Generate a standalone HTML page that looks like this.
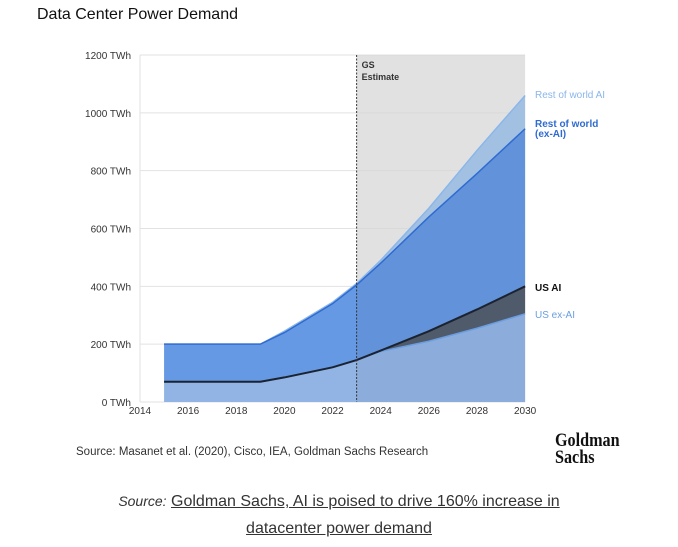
<!DOCTYPE html>
<html><head><meta charset="utf-8"><style>
body{margin:0;background:#fff;width:678px;height:547px;overflow:hidden;font-family:"Liberation Sans",sans-serif;position:relative}
.t{position:absolute}
</style></head><body>
<div class="t" style="left:37px;top:6px;font-size:16px;color:#111">Data Center Power Demand</div>
<svg id="c" width="678" height="440" style="position:absolute;left:0;top:0" font-family="Liberation Sans, sans-serif"></svg>
<div class="t" style="left:76px;top:446px;font-size:11.5px;color:#333">Source: Masanet et al. (2020), Cisco, IEA, Goldman Sachs Research</div>
<div class="t" style="left:555px;top:432px;font-family:'Liberation Serif',serif;font-weight:bold;font-size:19px;line-height:17px;color:#111;transform:scaleX(0.85);transform-origin:left">Goldman<br>Sachs</div>
<div class="t" style="left:0;width:678px;top:488px;text-align:center;font-size:16px;line-height:27px;color:#333"><i style="font-size:14px">Source:</i> <a style="color:#333;text-decoration:underline">Goldman Sachs, AI is poised to drive 160% increase in<br>datacenter power demand</a></div>
<script>
const years=[2015,2019,2020,2022,2023,2024,2026,2028,2030];
const usExAI=[70,70,85,120,145,175,210,255,305];
const usAI=[70,70,85,120,145,178,245,320,400];
const rowExAI=[200,200,240,340,405,480,640,790,945];
const rowAI=[200,200,245,345,410,490,670,870,1060];
const yTicks=[0,200,400,600,800,1000,1200];
const xTicks=[2014,2016,2018,2020,2022,2024,2026,2028,2030];
const NS='http://www.w3.org/2000/svg',svg=document.getElementById('c');
const X=y=>140+(y-2014)*24.07, Y=v=>402-v*(402-55)/1200;
function el(t,a,p){const e=document.createElementNS(NS,t);for(const k in a)e.setAttribute(k,a[k]);(p||svg).appendChild(e);return e;}
const gr=el('rect',{x:X(2023),y:55,width:X(2030)-X(2023),height:347,fill:'#ebebeb'});


yTicks.forEach(v=>{const g=el('line',{x1:140,x2:X(2030),y1:Y(v),y2:Y(v),stroke:'#e2e2e2'});


const t=el('text',{x:131,y:Y(v)+4,'text-anchor':'end','font-size':10,fill:'#333'});t.textContent=v+' TWh';

});
xTicks.forEach(v=>{const t=el('text',{x:X(v),y:414,'text-anchor':'middle','font-size':10,fill:'#333'});t.textContent=v;

});
function area(top,bot,fill,name){let d='M'+years.map((y,i)=>X(y)+','+Y(top[i])).join('L');
for(let i=years.length-1;i>=0;i--)d+='L'+X(years[i])+','+Y(bot?bot[i]:0);
const p=el('path',{d:d+'Z',fill:fill});

}
function line(vals,col,w,name){const p=el('path',{d:'M'+years.map((y,i)=>X(y)+','+Y(vals[i])).join('L'),fill:'none',stroke:col,'stroke-width':w});

}
area(rowAI,rowExAI,'#a9c8ec','area-rest-of-world-ai');
area(rowExAI,usAI,'#6699e3','area-rest-of-world-ex-ai');
area(usAI,usExAI,'#535e70','area-us-ai');
area(usExAI,null,'#92b4e4','area-us-ex-ai');
const ov=el('rect',{x:X(2023),y:55,width:X(2030)-X(2023),height:347,fill:'#000',opacity:0.04});


line(rowAI,'#8ab6ea',1.5,'line-rest-of-world-ai');
line(rowExAI,'#2f6bd0',1.5,'line-rest-of-world-ex-ai');
line(usExAI,'#6a9ee0',1.5,'line-us-ex-ai');
line(usAI,'#1b2330',2,'line-us-ai');
const vl=el('line',{x1:X(2023),x2:X(2023),y1:55,y2:402,stroke:'#333','stroke-dasharray':'2,1.5'});


const ax=el('line',{x1:140,x2:140,y1:55,y2:402,stroke:'#e2e2e2'});


[['GS',68],['Estimate',80]].forEach(([s,y])=>{const t=el('text',{x:X(2023)+5,y:y,'font-size':9,'font-weight':'bold',fill:'#333'});t.textContent=s;

});
const labs=[['Rest of world AI',98,'#8ab6ea',false],['Rest of world',127,'#2f6bd0',true],['(ex-AI)',137,'#2f6bd0',true],['US AI',291,'#111',true],['US ex-AI',318,'#6a9ee0',false]];
labs.forEach(([s,y,c,b])=>{const t=el('text',{x:535,y:y,'font-size':10,fill:c,'font-weight':b?'bold':'normal'});t.textContent=s;

});
</script>
</body></html>
